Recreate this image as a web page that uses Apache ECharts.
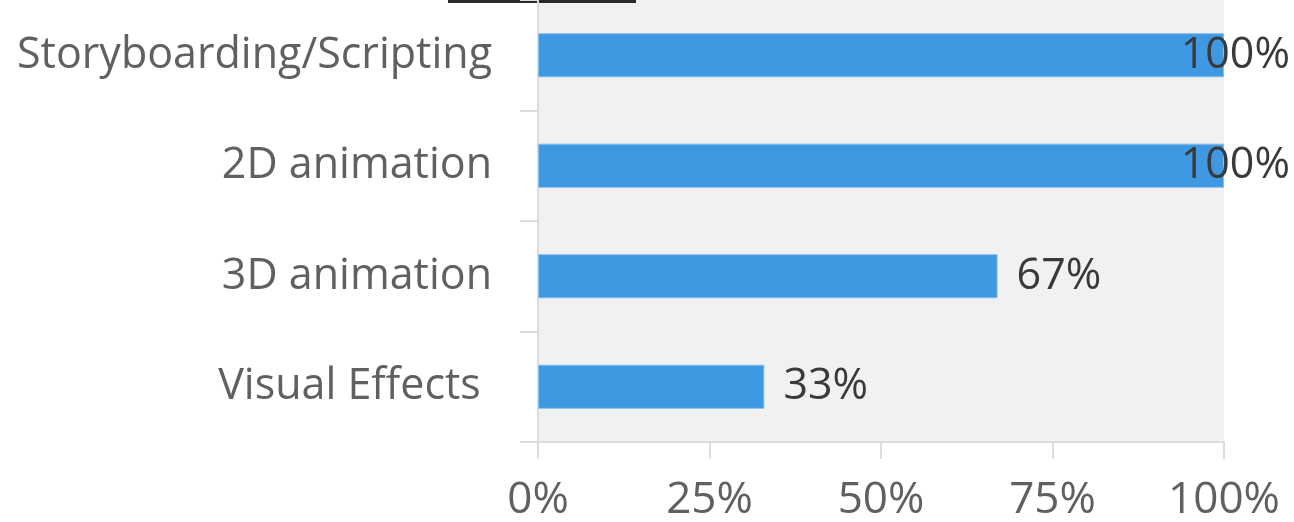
<!DOCTYPE html>
<html>
<head>
<meta charset="utf-8">
<script src="https://cdn.jsdelivr.net/npm/echarts@6/dist/echarts.min.js"></script>
<style>
  html, body { margin: 0; padding: 0; background: #ffffff; }
  #chart { width: 1294px; height: 522px; }
</style>
</head>
<body>
<div id="chart"></div>
<script>
const categories = ['Storyboarding/Scripting', '2D animation', '3D animation', 'Visual Effects '];
const values = [100, 100, 67, 33];
const tickLabels = ['0%', '25%', '50%', '75%', '100%'];

const FONT = '"Open Sans", sans-serif';
const chart = echarts.init(document.getElementById('chart'), null, { renderer: 'canvas' });

const seriesData = values.map(v => {
  const item = { value: v };
  if (v >= 100) {
    item.label = { position: 'insideRight', distance: 0, offset: [66, 0] };
  }
  return item;
});

chart.setOption({
  animation: false,
  backgroundColor: '#ffffff',
  graphic: [{
    type: 'rect', left: 448, top: 0, shape: { width: 188, height: 3 },
    style: { fill: '#2a2a2a' }, silent: true
  }],
  grid: { left: 538, right: 70, top: 0, bottom: 78, containLabel: false,
          show: true, backgroundColor: '#f1f1f1', borderWidth: 0 },
  xAxis: {
    type: 'value', min: 0, max: 100, interval: 25,
    axisLine: { show: true, lineStyle: { color: '#dcdcdc', width: 2 } },
    axisTick: { show: true, length: 17, lineStyle: { color: '#dcdcdc', width: 2 } },
    splitLine: { show: false },
    axisLabel: {
      margin: 36, color: '#606060', fontFamily: FONT, fontSize: 44,
      formatter: (v) => tickLabels[Math.round(v / 25)]
    }
  },
  yAxis: {
    type: 'category', data: categories, inverse: true,
    axisLine: { show: true, lineStyle: { color: '#dcdcdc', width: 2 } },
    axisTick: { show: true, length: 18, alignWithLabel: false, lineStyle: { color: '#dcdcdc', width: 2 } },
    axisLabel: { margin: 46, color: '#606060', fontFamily: FONT, fontSize: 43 }
  },
  series: [{
    type: 'bar', data: seriesData, barWidth: '40%',
    itemStyle: { color: '#3f99e2', borderColor: '#8cc0ec', borderWidth: 1 },
    label: {
      show: true, position: 'right', distance: 19,
      color: '#3a3a3a', fontFamily: FONT, fontSize: 43,
      formatter: (p) => p.value + '%'
    }
  }]
});
</script>
</body>
</html>
